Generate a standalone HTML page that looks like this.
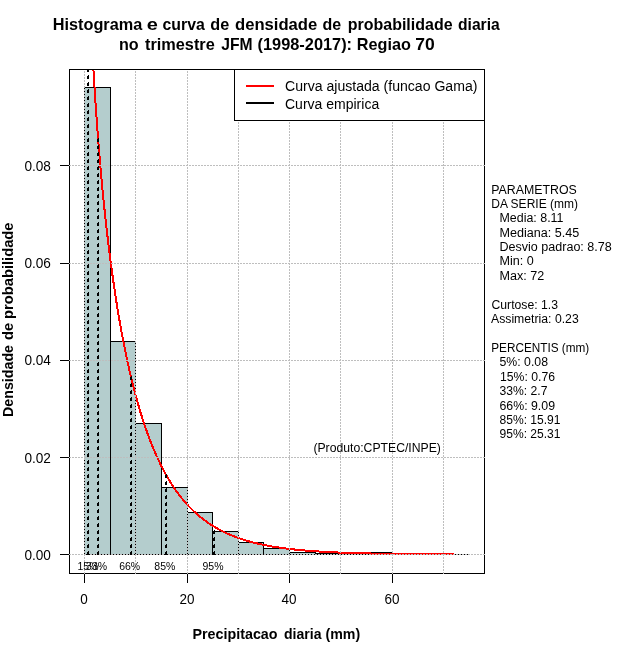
<!DOCTYPE html>
<html><head><meta charset="utf-8"><title>Histograma</title>
<style>
html,body{margin:0;padding:0;background:#fff;}
svg{display:block;}
text{font-family:"Liberation Sans",sans-serif;fill:#000;}
</style></head><body>
<svg width="640" height="660" viewBox="0 0 640 660">
<rect width="640" height="660" fill="#fff"/>
<g shape-rendering="crispEdges">
<g fill="#b4cdcd" stroke="#000" stroke-width="1">
<rect x="84.5" y="87.5" width="26.0" height="467.0"/>
<rect x="110.5" y="341.5" width="25.0" height="213.0"/>
<rect x="135.5" y="423.5" width="26.0" height="131.0"/>
<rect x="161.5" y="487.5" width="26.0" height="67.0"/>
<rect x="187.5" y="512.5" width="25.0" height="42.0"/>
<rect x="212.5" y="531.5" width="26.0" height="23.0"/>
<rect x="238.5" y="542.5" width="25.0" height="12.0"/>
<rect x="263.5" y="548.5" width="26.0" height="6.0"/>
<rect x="289.5" y="552.5" width="26.0" height="2.0"/>
<rect x="315.5" y="553.5" width="25.0" height="1.0"/>
<rect x="340.5" y="553.5" width="26.0" height="1.0"/>
<rect x="366.5" y="552.5" width="26.0" height="2.0"/>
<rect x="392.5" y="554.5" width="25.0" height="0.0"/>
<rect x="417.5" y="554.5" width="26.0" height="0.0"/>
<rect x="443.5" y="554.5" width="25.0" height="0.0"/>
</g>
<line x1="84" y1="554.5" x2="469" y2="554.5" stroke="#000" stroke-width="1"/>
<polyline points="85.64,-187.49 86.05,-156.29 86.46,-130.92 86.87,-109.43 87.28,-90.70 87.69,-74.04 88.09,-58.99 88.50,-45.23 88.91,-32.52 89.32,-20.69 89.73,-9.61 90.14,0.83 90.55,10.71 90.96,20.09 91.37,29.04 91.78,37.60 92.19,45.80 92.59,53.69 93.00,61.28 93.41,68.62 93.82,75.70 94.23,82.56 94.64,89.21 95.05,95.67 95.46,101.94 95.87,108.04 96.28,113.98 96.69,119.77 97.09,125.42 97.50,130.93 97.91,136.32 98.32,141.58 98.73,146.73 99.14,151.76 99.55,156.70 99.96,161.53 100.37,166.26 100.78,170.90 101.18,175.45 101.59,179.92 102.00,184.30 102.41,188.61 102.82,192.84 103.23,196.99 103.64,201.07 104.05,205.09 104.46,209.04 104.87,212.92 105.28,216.74 105.68,220.50 106.09,224.19 106.50,227.84 106.91,231.42 107.32,234.95 107.73,238.43 108.14,241.86 108.55,245.23 108.96,248.56 109.37,251.84 109.78,255.07 111.50,268.24 113.23,280.68 114.96,292.43 116.69,303.57 118.42,314.13 120.15,324.16 121.88,333.70 123.61,342.78 125.33,351.43 127.06,359.68 128.79,367.54 130.52,375.05 132.25,382.22 133.98,389.08 135.71,395.63 137.44,401.90 139.17,407.90 140.89,413.64 142.62,419.14 144.35,424.41 146.08,429.46 147.81,434.29 149.54,438.93 151.27,443.38 153.00,447.65 154.73,451.74 156.45,455.67 158.18,459.44 159.91,463.05 161.64,466.53 163.37,469.86 165.10,473.07 166.83,476.15 168.56,479.10 170.29,481.94 172.01,484.67 173.74,487.29 175.47,489.81 177.20,492.24 178.93,494.57 180.66,496.80 182.39,498.96 184.12,501.03 185.85,503.02 187.57,504.93 189.30,506.77 191.03,508.54 192.76,510.25 194.49,511.89 196.22,513.46 197.95,514.98 199.68,516.44 201.41,517.84 203.13,519.20 204.86,520.50 206.59,521.75 208.32,522.95 210.05,524.11 211.78,525.23 213.51,526.30 215.24,527.34 216.96,528.33 218.69,529.29 220.42,530.21 222.15,531.10 223.88,531.96 225.61,532.78 227.34,533.58 229.07,534.34 230.80,535.07 232.52,535.78 234.25,536.46 235.98,537.12 237.71,537.75 239.44,538.36 241.17,538.95 242.90,539.52 244.63,540.06 246.36,540.58 248.08,541.09 249.81,541.58 251.54,542.04 253.27,542.50 255.00,542.93 256.73,543.35 258.46,543.75 260.19,544.14 261.92,544.52 263.64,544.88 265.37,545.23 267.10,545.56 268.83,545.88 270.56,546.20 272.29,546.50 274.02,546.78 275.75,547.06 277.48,547.33 279.20,547.59 280.93,547.84 282.66,548.08 284.39,548.31 286.12,548.53 287.85,548.75 289.58,548.96 291.31,549.15 293.04,549.35 294.76,549.53 296.49,549.71 298.22,549.88 299.95,550.05 301.68,550.21 303.41,550.36 305.14,550.51 306.87,550.65 308.59,550.79 310.32,550.93 312.05,551.05 313.78,551.18 315.51,551.30 317.24,551.41 318.97,551.52 320.70,551.63 322.43,551.73 324.15,551.83 325.88,551.93 327.61,552.02 329.34,552.11 331.07,552.19 332.80,552.28 334.53,552.36 336.26,552.43 337.99,552.51 339.71,552.58 341.44,552.65 343.17,552.71 344.90,552.78 346.63,552.84 348.36,552.90 350.09,552.95 351.82,553.01 353.55,553.06 355.27,553.11 357.00,553.16 358.73,553.21 360.46,553.26 362.19,553.30 363.92,553.34 365.65,553.39 367.38,553.43 369.11,553.46 370.83,553.50 372.56,553.54 374.29,553.57 376.02,553.60 377.75,553.64 379.48,553.67 381.21,553.70 382.94,553.72 384.67,553.75 386.39,553.78 388.12,553.80 389.85,553.83 391.58,553.85 393.31,553.88 395.04,553.90 396.77,553.92 398.50,553.94 400.23,553.96 401.95,553.98 403.68,554.00 405.41,554.02 407.14,554.03 408.87,554.05 410.60,554.07 412.33,554.08 414.06,554.10 415.78,554.11 417.51,554.12 419.24,554.14 420.97,554.15 422.70,554.16 424.43,554.18 426.16,554.19 427.89,554.20 429.62,554.21 431.34,554.22 433.07,554.23 434.80,554.24 436.53,554.25 438.26,554.26 439.99,554.27 441.72,554.27 443.45,554.28 445.18,554.29 446.90,554.30 448.63,554.30 450.36,554.31 452.09,554.32 453.82,554.32" fill="none" stroke="#ff0000" stroke-width="2" clip-path="url(#cp)"/>
<rect x="69.5" y="69.5" width="415" height="504" fill="none" stroke="#000"/>
<g stroke="#bebebe" stroke-width="1" stroke-dasharray="2 1" fill="none">
<line x1="84.5" y1="70" x2="84.5" y2="574" stroke-dashoffset="2"/>
<line x1="135.5" y1="70" x2="135.5" y2="574" stroke-dashoffset="2"/>
<line x1="187.5" y1="70" x2="187.5" y2="574" stroke-dashoffset="2"/>
<line x1="238.5" y1="70" x2="238.5" y2="574" stroke-dashoffset="2"/>
<line x1="289.5" y1="70" x2="289.5" y2="574" stroke-dashoffset="2"/>
<line x1="340.5" y1="70" x2="340.5" y2="574" stroke-dashoffset="2"/>
<line x1="392.5" y1="70" x2="392.5" y2="574" stroke-dashoffset="2"/>
<line x1="443.5" y1="70" x2="443.5" y2="574" stroke-dashoffset="2"/>
<line x1="69" y1="554.5" x2="485" y2="554.5"/>
<line x1="69" y1="457.5" x2="485" y2="457.5"/>
<line x1="69" y1="360.5" x2="485" y2="360.5"/>
<line x1="69" y1="263.5" x2="485" y2="263.5"/>
<line x1="69" y1="165.5" x2="485" y2="165.5"/>
</g>
<g stroke="#000" stroke-width="1" fill="none">
<line x1="87.5" y1="555" x2="87.5" y2="70.0" stroke-dasharray="3 4"/><line x1="88.5" y1="555" x2="88.5" y2="70.0" stroke-dasharray="4 3"/>
<line x1="97.5" y1="555" x2="97.5" y2="137.0" stroke-dasharray="3 4"/><line x1="98.5" y1="555" x2="98.5" y2="137.0" stroke-dasharray="4 3"/>
<line x1="130.5" y1="555" x2="130.5" y2="376.1" stroke-dasharray="3 4"/><line x1="131.5" y1="555" x2="131.5" y2="376.1" stroke-dasharray="4 3"/>
<line x1="165.5" y1="555" x2="165.5" y2="474.3" stroke-dasharray="3 4"/><line x1="166.5" y1="555" x2="166.5" y2="474.3" stroke-dasharray="4 3"/>
<line x1="213.5" y1="555" x2="213.5" y2="526.6" stroke-dasharray="3 4"/><line x1="214.5" y1="555" x2="214.5" y2="526.6" stroke-dasharray="4 3"/>
</g>
<g stroke="#000" stroke-width="1">
<line x1="84.5" y1="574" x2="84.5" y2="583"/>
<line x1="187.5" y1="574" x2="187.5" y2="583"/>
<line x1="289.5" y1="574" x2="289.5" y2="583"/>
<line x1="392.5" y1="574" x2="392.5" y2="583"/>
<line x1="60" y1="554.5" x2="69" y2="554.5"/>
<line x1="60" y1="457.5" x2="69" y2="457.5"/>
<line x1="60" y1="360.5" x2="69" y2="360.5"/>
<line x1="60" y1="263.5" x2="69" y2="263.5"/>
<line x1="60" y1="165.5" x2="69" y2="165.5"/>
</g>
<rect x="234.5" y="69.5" width="250" height="51" fill="#fff" stroke="#000"/>
<line x1="246" y1="86" x2="274" y2="86" stroke="#ff0000" stroke-width="2"/>
<line x1="246" y1="103" x2="274" y2="103" stroke="#000" stroke-width="2"/>
</g>
<defs><clipPath id="cp"><rect x="69" y="69" width="416" height="505"/></clipPath></defs>
<g font-size="15.2px">
<text x="80.2" y="604" textLength="7.5" lengthAdjust="spacingAndGlyphs">0</text>
<text x="179.5" y="604" textLength="15.0" lengthAdjust="spacingAndGlyphs">20</text>
<text x="281.5" y="604" textLength="15.0" lengthAdjust="spacingAndGlyphs">40</text>
<text x="384.5" y="604" textLength="15.0" lengthAdjust="spacingAndGlyphs">60</text>
<text x="24.4" y="559.8" textLength="26.5" lengthAdjust="spacingAndGlyphs">0.00</text>
<text x="24.4" y="462.8" textLength="26.5" lengthAdjust="spacingAndGlyphs">0.02</text>
<text x="24.4" y="364.8" textLength="26.5" lengthAdjust="spacingAndGlyphs">0.04</text>
<text x="24.4" y="267.8" textLength="26.5" lengthAdjust="spacingAndGlyphs">0.06</text>
<text x="24.4" y="170.8" textLength="26.5" lengthAdjust="spacingAndGlyphs">0.08</text>
</g>
<g font-size="15.5px">
<text x="285" y="91" textLength="192.4" lengthAdjust="spacingAndGlyphs">Curva ajustada (funcao Gama)</text>
<text x="285" y="109" textLength="94.2" lengthAdjust="spacingAndGlyphs">Curva empirica</text>
</g>
<g font-size="12px">
<text x="491.25" y="194.0" textLength="85.50" lengthAdjust="spacingAndGlyphs">PARAMETROS</text>
<text x="491.25" y="208.0" textLength="86.75" lengthAdjust="spacingAndGlyphs">DA SERIE (mm)</text>
<text x="499.50" y="222.0" textLength="64.00" lengthAdjust="spacingAndGlyphs">Media: 8.11</text>
<text x="499.50" y="237.0" textLength="79.75" lengthAdjust="spacingAndGlyphs">Mediana: 5.45</text>
<text x="499.50" y="251.0" textLength="112.25" lengthAdjust="spacingAndGlyphs">Desvio padrao: 8.78</text>
<text x="499.50" y="265.0" textLength="34.25" lengthAdjust="spacingAndGlyphs">Min: 0</text>
<text x="499.50" y="280.0" textLength="44.75" lengthAdjust="spacingAndGlyphs">Max: 72</text>
<text x="491.50" y="309.0" textLength="66.50" lengthAdjust="spacingAndGlyphs">Curtose: 1.3</text>
<text x="491.00" y="323.0" textLength="87.75" lengthAdjust="spacingAndGlyphs">Assimetria: 0.23</text>
<text x="491.25" y="352.0" textLength="98.00" lengthAdjust="spacingAndGlyphs">PERCENTIS (mm)</text>
<text x="499.50" y="366.0" textLength="48.50" lengthAdjust="spacingAndGlyphs">5%: 0.08</text>
<text x="500.00" y="381.0" textLength="55.00" lengthAdjust="spacingAndGlyphs">15%: 0.76</text>
<text x="499.50" y="395.0" textLength="48.00" lengthAdjust="spacingAndGlyphs">33%: 2.7</text>
<text x="499.50" y="409.5" textLength="55.50" lengthAdjust="spacingAndGlyphs">66%: 9.09</text>
<text x="499.50" y="424.0" textLength="61.00" lengthAdjust="spacingAndGlyphs">85%: 15.91</text>
<text x="499.50" y="438.0" textLength="61.00" lengthAdjust="spacingAndGlyphs">95%: 25.31</text>
<text x="313.4" y="452" textLength="127.5" lengthAdjust="spacingAndGlyphs">(Produto:CPTEC/INPE)</text>
</g>
<g font-size="11px">
<text x="77.5" y="570" textLength="21" lengthAdjust="spacingAndGlyphs">15%</text>
<text x="86.1" y="570" textLength="21" lengthAdjust="spacingAndGlyphs">33%</text>
<text x="119.2" y="570" textLength="21" lengthAdjust="spacingAndGlyphs">66%</text>
<text x="154.3" y="570" textLength="21" lengthAdjust="spacingAndGlyphs">85%</text>
<text x="202.5" y="570" textLength="21" lengthAdjust="spacingAndGlyphs">95%</text>
</g>
<g font-weight="bold">
<text y="30" font-size="17px"><tspan x="52.75" textLength="89.52" lengthAdjust="spacingAndGlyphs">Histograma</tspan> <tspan x="146.75" textLength="11.13" lengthAdjust="spacingAndGlyphs">e</tspan> <tspan x="162.50" textLength="42.27" lengthAdjust="spacingAndGlyphs">curva</tspan> <tspan x="210.25" textLength="18.94" lengthAdjust="spacingAndGlyphs">de</tspan> <tspan x="235.00" textLength="82.29" lengthAdjust="spacingAndGlyphs">densidade</tspan> <tspan x="322.50" textLength="18.66" lengthAdjust="spacingAndGlyphs">de</tspan> <tspan x="347.75" textLength="104.79" lengthAdjust="spacingAndGlyphs">probabilidade</tspan> <tspan x="458.00" textLength="41.78" lengthAdjust="spacingAndGlyphs">diaria</tspan></text>
<text y="50" font-size="17px"><tspan x="119.00" textLength="19.72" lengthAdjust="spacingAndGlyphs">no</tspan> <tspan x="145.00" textLength="69.79" lengthAdjust="spacingAndGlyphs">trimestre</tspan> <tspan x="221.25" textLength="31.31" lengthAdjust="spacingAndGlyphs">JFM</tspan> <tspan x="257.50" textLength="94.56" lengthAdjust="spacingAndGlyphs">(1998-2017):</tspan> <tspan x="356.75" textLength="54.10" lengthAdjust="spacingAndGlyphs">Regiao</tspan> <tspan x="415.25" textLength="19.50" lengthAdjust="spacingAndGlyphs">70</tspan></text>
<text y="638.6" font-size="15px"><tspan x="192.50" textLength="85.03" lengthAdjust="spacingAndGlyphs">Precipitacao</tspan> <tspan x="284.00" textLength="37.53" lengthAdjust="spacingAndGlyphs">diaria</tspan> <tspan x="325.50" textLength="34.68" lengthAdjust="spacingAndGlyphs">(mm)</tspan></text>
<text transform="translate(13.1,416.4) rotate(-90)" y="0" font-size="15px"><tspan x="-0.60" textLength="72.02" lengthAdjust="spacingAndGlyphs">Densidade</tspan> <tspan x="76.40" textLength="17.11" lengthAdjust="spacingAndGlyphs">de</tspan> <tspan x="97.40" textLength="96.54" lengthAdjust="spacingAndGlyphs">probabilidade</tspan></text>
</g>
</svg>
</body></html>
